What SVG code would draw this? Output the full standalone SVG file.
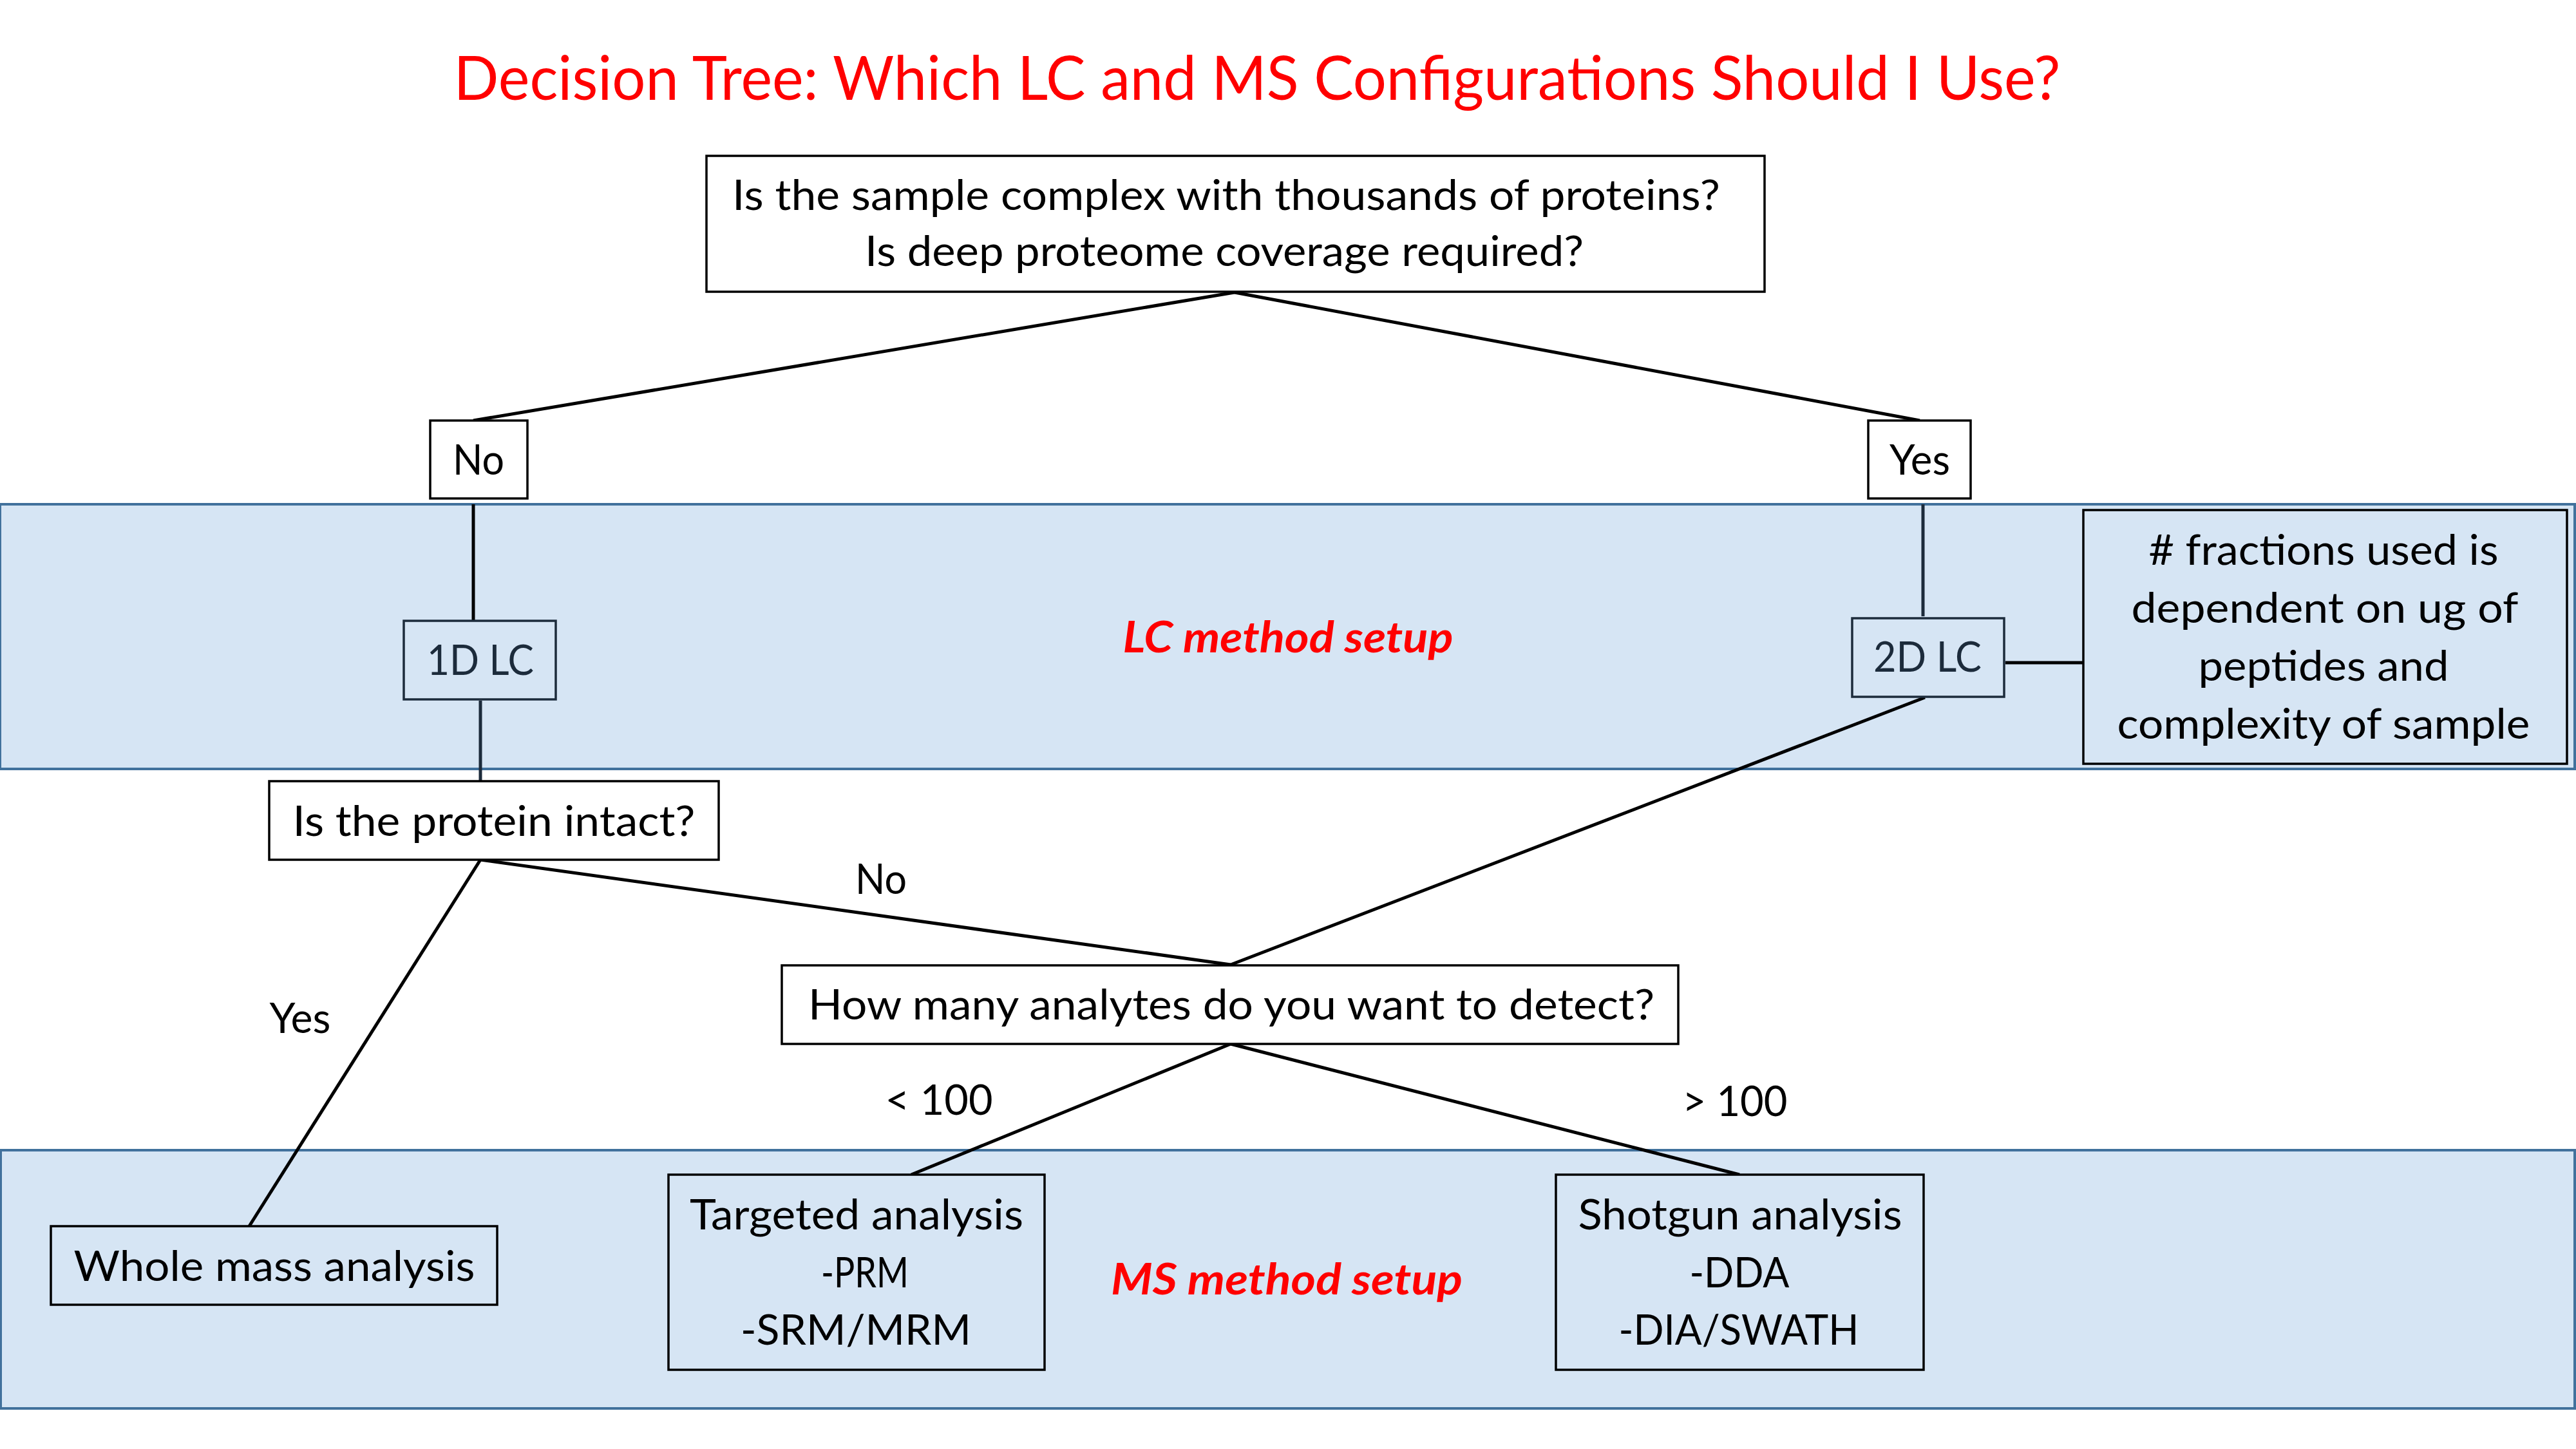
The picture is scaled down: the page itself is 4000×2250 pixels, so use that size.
<svg xmlns="http://www.w3.org/2000/svg" width="4000" height="2250" viewBox="0 0 4000 2250">
<style>
text{font-family:Lato,"Liberation Sans",sans-serif;font-size:66px;fill:#000;text-anchor:middle}
.title{font-size:95px;fill:#FF0000}
.sec{font-weight:bold;font-style:italic;fill:#FF0000}
.dk{fill:#1C2B3B}
.band{fill:#D6E5F4;stroke:#41719C;stroke-width:4}
.wbox{fill:#FFFFFF;stroke:#000;stroke-width:3.5}
.bbox{fill:#D6E5F4;stroke:#000;stroke-width:3.5}
.nbox{fill:#D6E5F4;stroke:#1C2B3B;stroke-width:3.5}
.ln{stroke:#000;stroke-width:5;fill:none}
.lnd{stroke:#1C2B3B;stroke-width:5;fill:none}
</style>
<rect width="4000" height="2250" fill="#FFFFFF"/>
<text class="title" x="1952" y="155" textLength="2495" lengthAdjust="spacingAndGlyphs">Decision Tree: Which LC and MS Configurations Should I Use?</text>
<g id="bands">
<rect id="lc-band" class="band" x="0" y="783" width="3998" height="411"/>
<rect id="ms-band" class="band" x="1" y="1786" width="3997" height="401"/>
<text class="sec" x="2000" y="1013" textLength="513" lengthAdjust="spacingAndGlyphs">LC method setup</text>
<text class="sec" x="1998" y="2010" textLength="546" lengthAdjust="spacingAndGlyphs">MS method setup</text>
</g>
<g id="connectors">
<line class="ln" x1="1917" y1="454" x2="735" y2="653"/>
<line class="ln" x1="1917" y1="454" x2="2981" y2="653"/>
<line class="ln" x1="735" y1="783" x2="735" y2="963"/>
<line class="lnd" x1="2986" y1="783" x2="2986" y2="957"/>
<line class="lnd" x1="746" y1="1088" x2="746" y2="1213"/>
<line class="ln" x1="3114" y1="1029" x2="3234" y2="1029" stroke-width="6"/>
<line class="ln" x1="2989" y1="1083" x2="1911" y2="1498"/>
<line class="ln" x1="746" y1="1335" x2="1911" y2="1498"/>
<line class="ln" x1="746" y1="1335" x2="387" y2="1904"/>
<line class="ln" x1="1911" y1="1621" x2="1415" y2="1824"/>
<line class="ln" x1="1911" y1="1621" x2="2701" y2="1824"/>
<text x="1368" y="1388" textLength="80" lengthAdjust="spacingAndGlyphs">No</text>
<text x="466" y="1604" textLength="95" lengthAdjust="spacingAndGlyphs">Yes</text>
<text x="1458" y="1731" textLength="167" lengthAdjust="spacingAndGlyphs">&lt; 100</text>
<text x="2694" y="1733" textLength="163" lengthAdjust="spacingAndGlyphs">&gt; 100</text>
</g>
<g id="q1">
<rect class="wbox" x="1097" y="242" width="1643" height="211"/>
<text x="1904" y="326" textLength="1534" lengthAdjust="spacingAndGlyphs">Is the sample complex with thousands of proteins?</text>
<text x="1901" y="413" textLength="1116" lengthAdjust="spacingAndGlyphs">Is deep proteome coverage required?</text>
</g>
<g id="no">
<rect class="wbox" x="668" y="653" width="151" height="121"/>
<text x="743" y="737" textLength="80" lengthAdjust="spacingAndGlyphs">No</text>
</g>
<g id="yes">
<rect class="wbox" x="2901" y="653" width="159" height="121"/>
<text x="2981" y="737" textLength="94" lengthAdjust="spacingAndGlyphs">Yes</text>
</g>
<g id="lc1d">
<rect class="nbox" x="627" y="964" width="236" height="122"/>
<text class="dk" x="746" y="1048" textLength="166" lengthAdjust="spacingAndGlyphs">1D LC</text>
</g>
<g id="lc2d">
<rect class="nbox" x="2876" y="960" width="236" height="122"/>
<text class="dk" x="2993" y="1043" textLength="168" lengthAdjust="spacingAndGlyphs">2D LC</text>
</g>
<g id="fractions">
<rect class="bbox" x="3235" y="792" width="751" height="394" stroke-width="4"/>
<text x="3608" y="877" textLength="543" lengthAdjust="spacingAndGlyphs"># fractions used is</text>
<text x="3610" y="967" textLength="601" lengthAdjust="spacingAndGlyphs">dependent on ug of</text>
<text x="3608" y="1057" textLength="389" lengthAdjust="spacingAndGlyphs">peptides and</text>
<text x="3608" y="1147" textLength="641" lengthAdjust="spacingAndGlyphs">complexity of sample</text>
</g>
<g id="intact">
<rect class="wbox" x="418" y="1213" width="698" height="122"/>
<text x="767" y="1298" textLength="625" lengthAdjust="spacingAndGlyphs">Is the protein intact?</text>
</g>
<g id="howmany">
<rect class="wbox" x="1214" y="1499" width="1392" height="122"/>
<text x="1912" y="1583" textLength="1314" lengthAdjust="spacingAndGlyphs">How many analytes do you want to detect?</text>
</g>
<g id="wholemass">
<rect class="bbox" x="79" y="1904" width="693" height="122"/>
<text x="426" y="1989" textLength="623" lengthAdjust="spacingAndGlyphs">Whole mass analysis</text>
</g>
<g id="targeted">
<rect class="bbox" x="1038" y="1824" width="584" height="303"/>
<text x="1330" y="1909" textLength="518" lengthAdjust="spacingAndGlyphs">Targeted analysis</text>
<text x="1343" y="1999" textLength="136" lengthAdjust="spacingAndGlyphs">-PRM</text>
<text x="1329" y="2088" textLength="358" lengthAdjust="spacingAndGlyphs">-SRM/MRM</text>
</g>
<g id="shotgun">
<rect class="bbox" x="2416" y="1824" width="571" height="303"/>
<text x="2702" y="1909" textLength="503" lengthAdjust="spacingAndGlyphs">Shotgun analysis</text>
<text x="2701" y="1999" textLength="155" lengthAdjust="spacingAndGlyphs">-DDA</text>
<text x="2700" y="2088" textLength="373" lengthAdjust="spacingAndGlyphs">-DIA/SWATH</text>
</g>
</svg>
